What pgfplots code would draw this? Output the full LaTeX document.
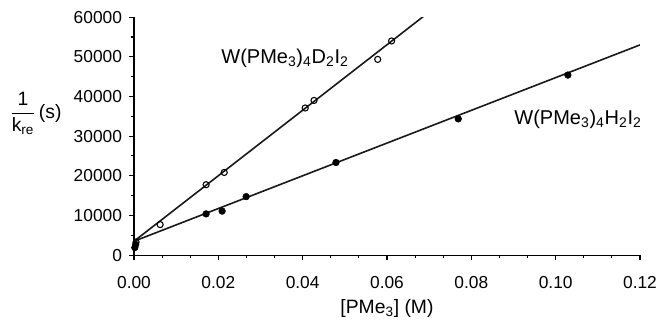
\documentclass[border=0pt]{standalone}
\usepackage{amsmath}
\usepackage{fontspec}
\setmainfont{Liberation Sans}
\usepackage{pgfplots}
\pgfplotsset{compat=1.18}
\begin{document}
\begin{tikzpicture}
\begin{axis}[
  scale only axis,
  width=379.5pt, height=178.5pt,
  xmin=0, xmax=0.12, ymin=0, ymax=60000,
  axis lines=left,
  axis line style={-, line width=0.9pt},
  xtick={0,0.02,0.04,0.06,0.08,0.10,0.12},
  ytick={0,10000,20000,30000,40000,50000,60000},
  scaled y ticks=false,
  scaled x ticks=false,
  minor x tick num=2,
  minor y tick num=1,
  tick align=outside,
  major tick length=3.5pt,
  minor tick length=2.2pt,
  tick style={line width=0.8pt, black},
  /pgf/number format/assume math mode=true,
  xticklabel style={/pgf/number format/fixed, /pgf/number format/fixed zerofill, /pgf/number format/precision=2, yshift=-9pt},
  yticklabel style={/pgf/number format/fixed, /pgf/number format/1000 sep={}, xshift=-2pt},
  ticklabel style={font=\fontsize{13}{15}\selectfont},
  xlabel={[PMe\textsubscript{3}] (M)},
  xlabel style={font=\fontsize{14.5}{16}\selectfont, yshift=-1pt},
  clip=true,
]
% W(PMe3)4D2I2 : open circles
\addplot[only marks, mark=o, mark size=2.3pt, mark options={line width=0.8pt, fill=white}] coordinates {
(0.0005,3300) (0.0062,7700) (0.0171,17750) (0.0214,20850) (0.0406,37100) (0.0427,39000) (0.0578,49350) (0.0611,54000)
};
% W(PMe3)4H2I2 : filled circles
\addplot[only marks, mark=*, mark size=2.5pt, black] coordinates {
(0.0002,1900) (0.0004,2700) (0.0171,10400) (0.0209,11100) (0.0266,14750) (0.0479,23350) (0.0769,34350) (0.1029,45400)
};
% fitted lines
\addplot[line width=1.2pt, black!90] coordinates {(0,3500) (0.0700,61300)};
\addplot[line width=1.2pt, black!90] coordinates {(0,3500) (0.12,53000)};
\node[font=\fontsize{15}{17}\selectfont] at (axis cs:0.0358,49700) {W(PMe\textsubscript{3})\textsubscript{4}D\textsubscript{2}I\textsubscript{2}};
\node[font=\fontsize{15}{17}\selectfont] at (axis cs:0.1053,34200) {W(PMe\textsubscript{3})\textsubscript{4}H\textsubscript{2}I\textsubscript{2}};
\coordinate (yl) at (rel axis cs:-0.194,0.597);
\coordinate (bl) at (rel axis cs:-0.2648,-0.275);
\coordinate (tr) at (rel axis cs:1.0435,1.072);
\end{axis}
\node[font=\fontsize{14.5}{16}\selectfont, inner sep=0pt] at (yl) {$\dfrac{\text{1}}{\text{k\textsubscript{re}}}$\,(s)};
\pgfresetboundingbox
\path[use as bounding box] (bl) rectangle (tr);
\end{tikzpicture}
\end{document}
